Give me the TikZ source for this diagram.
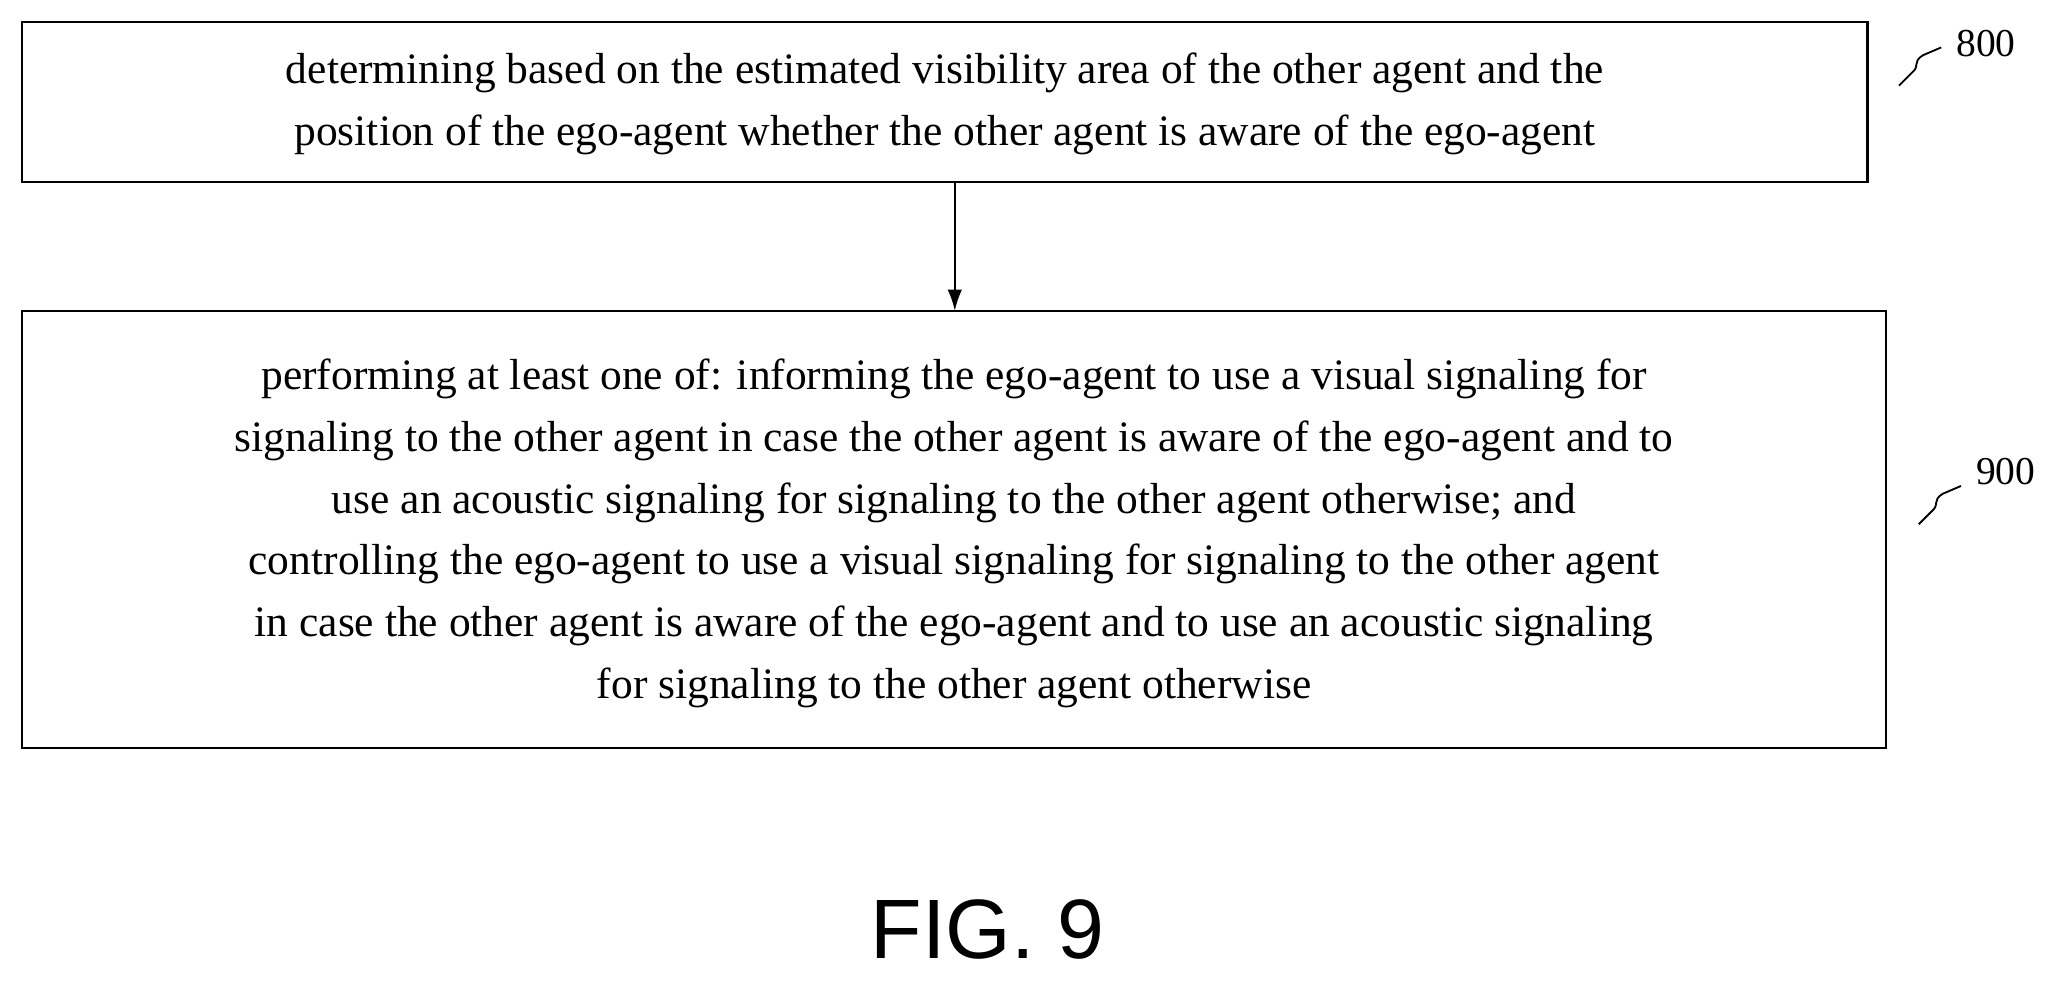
\documentclass[tikz,border=0pt]{standalone}
\usepackage{fontspec}
\setmainfont{Liberation Serif}
\setsansfont{Liberation Sans}
\usetikzlibrary{positioning,arrows.meta}
\tikzset{
  stepbox/.style={draw,line width=1.6pt,align=center,inner sep=0pt,
    font=\fontsize{33}{47}\selectfont},
  reflabel/.style={font=\fontsize{30}{30}\selectfont,anchor=west},
}
\begin{document}
\begin{tikzpicture}[x=1pt,y=-1pt]
        \useasboundingbox (0,0) rectangle (1568,750);

        \draw [stepbox] (17,17) rectangle (1418,138);
        \node [stepbox,draw=none] (s800) at (717.5,79) {determining based on the estimated visibility area of the other agent and the\\
position of the ego-agent whether the other agent is aware of the ego-agent};

        \draw [stepbox] (17,236) rectangle (1432,568);
        \node [stepbox,draw=none] (s900) at (724.5,405) {performing at least one of: informing the ego-agent to use a visual signaling for\\
signaling to the other agent in case the other agent is aware of the ego-agent and to\\
use an acoustic signaling for signaling to the other agent otherwise; and\\
controlling the ego-agent to use a visual signaling for signaling to the other agent\\
in case the other agent is aware of the ego-agent and to use an acoustic signaling\\
for signaling to the other agent otherwise};

        \coordinate (a1) at (725,138);
        \coordinate (a2) at (725,236);
        \draw [line width=1.6pt,-{Latex[length=16pt,width=11pt]}] (a1) -- (a2);

        % reference numerals
        \node [reflabel] (n800) at (1482,33) {800};
        \draw [line width=1.4pt] (1442,65) -- (1452,55) .. controls (1458,50) and (1452,47) .. (1460,42) -- (1474,36);
        \node [reflabel] (n900) at (1497,358) {900};
        \draw [line width=1.4pt] (1457,398) -- (1467,388) .. controls (1473,383) and (1467,380) .. (1475,375) -- (1489,369);

        \node [font=\sffamily\fontsize{64}{64}\selectfont] (fig) at (750,706) {FIG. 9};
\end{tikzpicture}
\end{document}
